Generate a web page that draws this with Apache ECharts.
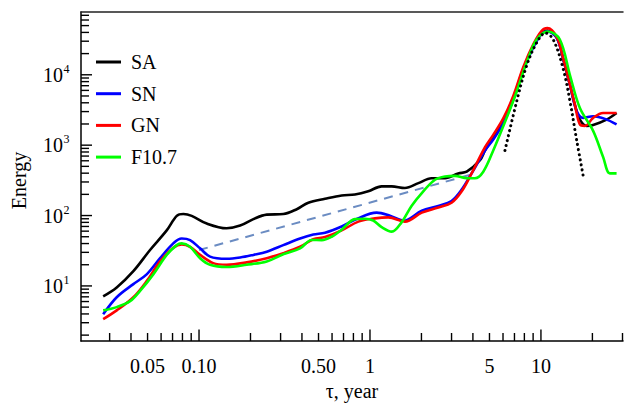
<!DOCTYPE html>
<html>
<head>
<meta charset="utf-8">
<script src="https://cdn.jsdelivr.net/npm/echarts@6/dist/echarts.min.js"></script>
<style>
  html, body { margin: 0; padding: 0; background: #fff; }
  #chart { width: 624px; height: 406px; }
</style>
</head>
<body>
<div id="chart"></div>
<script>
// Energy spectra versus period tau (years), log-log.
// Each series is a list of [tau, energy] pairs.
const SA = [
  [0.0275, 7.1], [0.033, 9.5], [0.0413, 16.2], [0.0517, 32.4], [0.0647, 61.5],
  [0.0741, 99], [0.081, 105], [0.0906, 99], [0.111, 77], [0.145, 66],
  [0.174, 72], [0.208, 89], [0.249, 103], [0.311, 105], [0.373, 123],
  [0.436, 152], [0.546, 173], [0.683, 193], [0.817, 199], [0.977, 221],
  [1.17, 260], [1.34, 260], [1.6, 246], [1.92, 289], [2.29, 339],
  [2.75, 339], [3.28, 397], [3.68, 420], [4.4, 611], [4.71, 841],
  [5.26, 1290], [6.02, 2200], [6.89, 4630], [7.88, 12100], [9.02, 25600],
  [10.1, 39300], [10.9, 42500], [12.4, 33400], [13.5, 16700], [14.8, 7100],
  [15.8, 3740], [16.9, 2310], [18.5, 1875], [20.2, 1935], [24.2, 2310],
  [27.7, 2870]
];

const SN = [
  [0.0275, 3.95], [0.033, 6.9], [0.0413, 10.6], [0.0494, 14.6], [0.0592, 24.8],
  [0.0707, 40.2], [0.0792, 47.1], [0.0886, 44.7], [0.1014, 34.2], [0.116, 26.1],
  [0.145, 24.3], [0.174, 25.3], [0.208, 27.6], [0.249, 30.7], [0.311, 38],
  [0.39, 47.1], [0.466, 53.6], [0.546, 57.1], [0.683, 70], [0.836, 89.3],
  [1.094, 110], [1.31, 99.3], [1.57, 84.7], [2.01, 117], [2.51, 137],
  [3.0, 161], [3.44, 234], [3.93, 397], [4.71, 841], [5.26, 1200],
  [6.02, 2050], [6.89, 4400], [7.88, 11500], [9.02, 24500], [10.1, 38000],
  [10.9, 41400], [12.4, 33000], [13.5, 16700], [14.8, 7100], [16.2, 3030],
  [17.7, 2445], [20.2, 2580], [23.7, 2365], [27.7, 1970]
];

const GN = [
  [0.0275, 3.37], [0.033, 4.49], [0.0413, 6.9], [0.0494, 11.7], [0.0592, 22.3],
  [0.0707, 34.8], [0.0792, 38.9], [0.0886, 36], [0.1014, 27.6], [0.121, 21.1],
  [0.145, 20], [0.19, 21.6], [0.249, 24.8], [0.311, 29.2], [0.39, 36],
  [0.466, 46], [0.546, 49.5], [0.683, 61.5], [0.855, 82], [1.07, 91.2],
  [1.28, 94.2], [1.6, 82], [2.01, 110], [2.51, 130], [3.0, 152],
  [3.44, 221], [3.93, 397], [4.71, 935], [5.26, 1400], [6.02, 2400],
  [6.89, 5000], [7.88, 12800], [9.02, 27000], [10.1, 42000], [10.9, 46000],
  [12.4, 34000], [13.5, 17000], [14.8, 7100], [15.8, 3740], [16.9, 1970],
  [18.1, 1875], [20.2, 2445], [23.1, 2870], [27.7, 2870]
];

const F107 = [
  [0.0275, 4.49], [0.033, 5.0], [0.0395, 6.07], [0.0452, 8.5], [0.054, 14.6],
  [0.0647, 27.6], [0.0741, 38], [0.0792, 40.2], [0.0886, 36], [0.1014, 24.8],
  [0.116, 20], [0.145, 18.6], [0.19, 20], [0.249, 22.3], [0.311, 28.2],
  [0.39, 34.2], [0.456, 45], [0.522, 44.7], [0.597, 50], [0.683, 63],
  [0.817, 89], [0.935, 90], [1.045, 85], [1.17, 68.3], [1.34, 59],
  [1.53, 80], [1.75, 137], [2.01, 209], [2.4, 322], [2.75, 358],
  [3.14, 366], [3.68, 339], [4.11, 339], [4.6, 420], [5.26, 841],
  [6.3, 2445], [7.21, 5740], [8.25, 15000], [9.44, 31700], [11.0, 41300],
  [12.9, 31700], [14.8, 9770], [16.9, 3370], [20.2, 1596], [23.1, 679],
  [25.3, 397], [27.7, 397]
];

// Power-law trend between the annual and solar-cycle ranges
const TREND = [[0.1, 32.4], [3.84, 378]];

// Model peak around the 11-year cycle
const PEAK_MODEL = [
  [6.16, 841], [7.21, 4170], [8.25, 13500], [9.44, 28500], [10.6, 39300],
  [11.8, 31700], [13.5, 12100], [14.8, 4170], [16.2, 1159], [17.7, 358]
];

// Axis ticks and labels
const X_RANGE = [0.0204, 30.2];
const Y_RANGE = [1.65, 78000];
const X_MAJOR = [0.1, 1, 10];
const X_MINOR = [0.03, 0.04, 0.05, 0.06, 0.07, 0.08, 0.09,
                 0.2, 0.3, 0.4, 0.5, 0.6, 0.7, 0.8, 0.9,
                 2, 3, 4, 5, 6, 7, 8, 9, 20, 30];
const X_LABEL_VALUES = [0.05, 0.1, 0.5, 1, 5, 10];
const X_LABEL_TEXT = ['0.05', '0.10', '0.50', '1', '5', '10'];
const Y_MAJOR = [10, 100, 1000, 10000];
const Y_MINOR = [2, 3, 4, 5, 6, 7, 8, 9,
                 20, 30, 40, 50, 60, 70, 80, 90,
                 200, 300, 400, 500, 600, 700, 800, 900,
                 2000, 3000, 4000, 5000, 6000, 7000, 8000, 9000,
                 20000, 30000, 40000, 50000, 60000, 70000];
const Y_LABEL_EXP = [1, 2, 3, 4];

const FONT_FAMILY = '"Liberation Serif", "Times New Roman", serif';

const chart = echarts.init(document.getElementById('chart'), null, { renderer: 'svg' });

function xTicks(values, len) {
  return {
    type: 'custom', silent: true, z: 10, clip: false,
    data: values.map(v => [v, 10]),
    renderItem: (params, api) => {
      const cs = params.coordSys;
      const x = api.coord([api.value(0), api.value(1)])[0];
      const y0 = cs.y + cs.height;
      return { type: 'line', shape: { x1: x, y1: y0, x2: x, y2: y0 - len },
               style: { stroke: '#000', lineWidth: 1.4 } };
    }
  };
}

function yTicks(values, len) {
  return {
    type: 'custom', silent: true, z: 10, clip: false,
    data: values.map(v => [1, v]),
    renderItem: (params, api) => {
      const cs = params.coordSys;
      const y = api.coord([api.value(0), api.value(1)])[1];
      return { type: 'line', shape: { x1: cs.x, y1: y, x2: cs.x + len, y2: y },
               style: { stroke: '#000', lineWidth: 1.4 } };
    }
  };
}

const xLabels = {
  type: 'custom', silent: true, z: 10, clip: false,
  data: X_LABEL_VALUES.map(v => [v, 10]),
  renderItem: (params, api) => {
    const cs = params.coordSys;
    const x = api.coord([api.value(0), api.value(1)])[0];
    return { type: 'text', x: x, y: cs.y + cs.height + 15,
             style: { text: X_LABEL_TEXT[params.dataIndex], fill: '#000',
                      font: '20px ' + FONT_FAMILY, align: 'center', verticalAlign: 'top' } };
  }
};

const yLabels = {
  type: 'custom', silent: true, z: 10, clip: false,
  data: Y_LABEL_EXP.map(e => [1, Math.pow(10, e)]),
  renderItem: (params, api) => {
    const cs = params.coordSys;
    const y = api.coord([api.value(0), api.value(1)])[1];
    const xr = cs.x - 18;
    return {
      type: 'group',
      children: [
        { type: 'text', x: xr, y: y,
          style: { text: '10', fill: '#000', font: '20px ' + FONT_FAMILY,
                   align: 'right', verticalAlign: 'middle' } },
        { type: 'text', x: xr + 0.5, y: y - 6,
          style: { text: String(Y_LABEL_EXP[params.dataIndex]), fill: '#000',
                   font: '12px ' + FONT_FAMILY, align: 'left', verticalAlign: 'middle' } }
      ]
    };
  }
};

function curve(name, data, color) {
  return {
    name, type: 'line', data, smooth: 0.35, symbol: 'none', z: 3,
    lineStyle: { color, width: 2.6 }, itemStyle: { color }
  };
}

chart.setOption({
  animation: false,
  backgroundColor: '#fff',
  grid: { left: 81, right: 1, top: 12, bottom: 58 },
  legend: {
    data: ['SA', 'SN', 'GN', 'F10.7'],
    orient: 'vertical', left: 96, top: 52, padding: 0,
    icon: 'rect', itemWidth: 25, itemHeight: 3, itemGap: 11.7,
    textStyle: { fontFamily: FONT_FAMILY, fontSize: 20, color: '#000',
                 lineHeight: 20, padding: [0, 0, 0, 5] },
    selectedMode: false
  },
  xAxis: [
    {
      type: 'log', logBase: 10, min: X_RANGE[0], max: X_RANGE[1],
      name: 'τ, year', nameLocation: 'middle', nameGap: 40,
      nameTextStyle: { fontFamily: FONT_FAMILY, fontSize: 20, color: '#000' },
      axisLine: { show: true, lineStyle: { color: '#000', width: 1.5 } },
      axisTick: { show: false }, axisLabel: { show: false },
      splitLine: { show: false }, minorTick: { show: false }
    },
    {
      type: 'value', position: 'top', min: 0, max: 1,
      axisLine: { show: true, lineStyle: { color: '#222', width: 1.5 } },
      axisTick: { show: false }, axisLabel: { show: false }, splitLine: { show: false }
    }
  ],
  yAxis: {
    type: 'log', logBase: 10, min: Y_RANGE[0], max: Y_RANGE[1],
    name: 'Energy', nameLocation: 'middle', nameGap: 52, nameRotate: 90,
    nameTextStyle: { fontFamily: FONT_FAMILY, fontSize: 20, color: '#000', padding: [0, 8, 0, 0] },
    axisLine: { show: true, lineStyle: { color: '#000', width: 1.5 } },
    axisTick: { show: false }, axisLabel: { show: false },
    splitLine: { show: false }, minorTick: { show: false }
  },
  series: [
    curve('SA', SA, '#000000'),
    curve('SN', SN, '#0000ff'),
    curve('GN', GN, '#ff0000'),
    curve('F10.7', F107, '#00ff00'),
    {
      name: 'trend', type: 'line', data: TREND, symbol: 'none', z: 2,
      lineStyle: { color: '#6b8cc2', width: 2, type: [9, 7] }
    },
    {
      name: 'model', type: 'line', data: PEAK_MODEL, smooth: 0.35, symbol: 'none', z: 4,
      lineStyle: { color: '#000', width: 3, type: [0.1, 5], cap: 'round' }
    },
    xTicks(X_MAJOR, 11.5),
    xTicks(X_MINOR, 8),
    yTicks(Y_MAJOR, 11),
    yTicks(Y_MINOR, 8),
    xLabels,
    yLabels
  ]
});
</script>
</body>
</html>
